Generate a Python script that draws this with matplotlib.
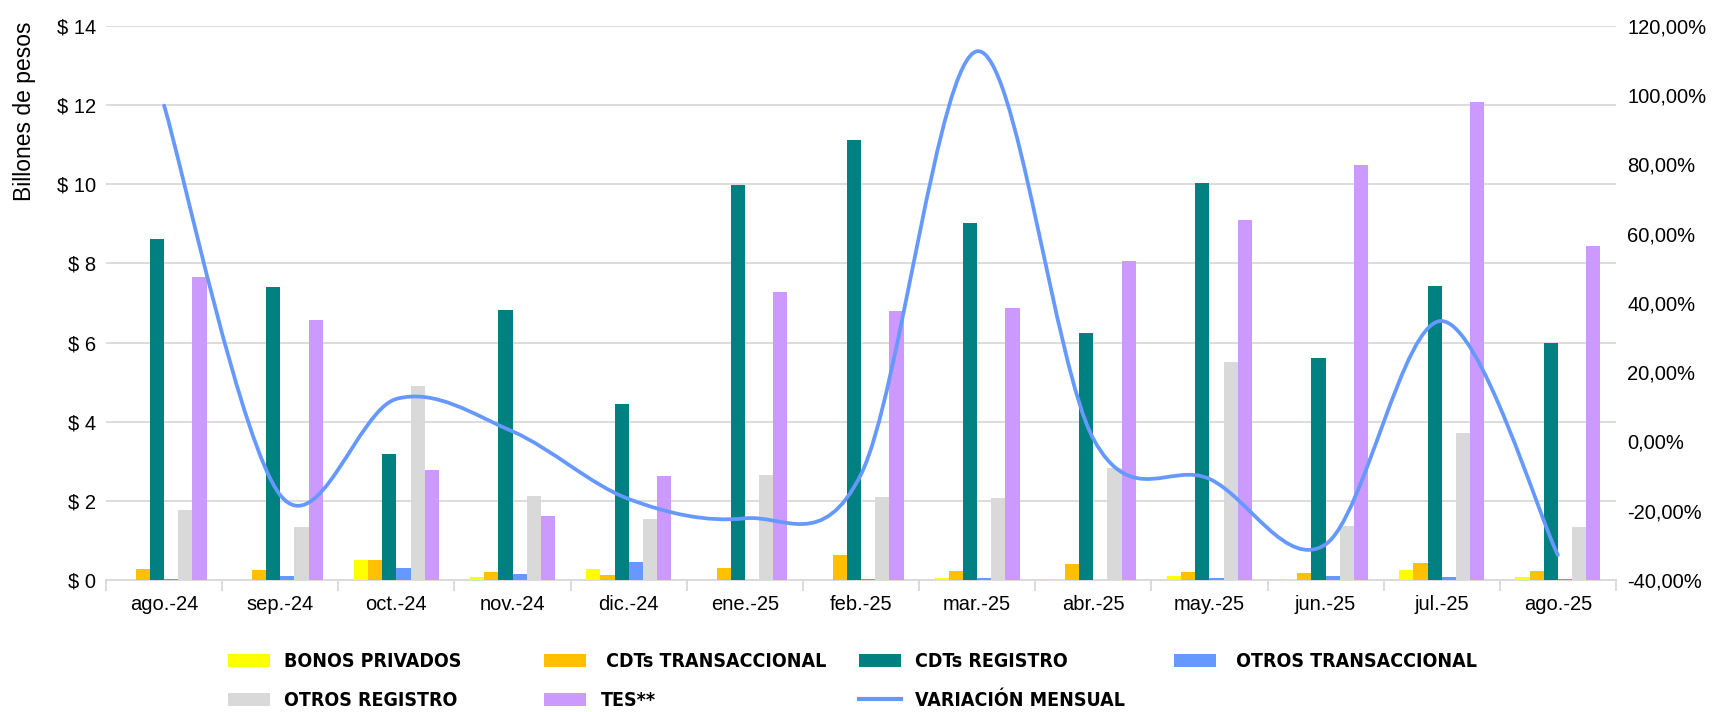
import matplotlib
matplotlib.use("Agg")
import matplotlib.pyplot as plt
from matplotlib import font_manager
from matplotlib.path import Path
from matplotlib.patches import PathPatch, Patch
from matplotlib.lines import Line2D
from matplotlib.ticker import FuncFormatter, FixedLocator
import numpy as np

months = ["ago.-24", "sep.-24", "oct.-24", "nov.-24", "dic.-24", "ene.-25", "feb.-25",
          "mar.-25", "abr.-25", "may.-25", "jun.-25", "jul.-25", "ago.-25"]

# billones de pesos
bonos_privados = [0.0, 0.0, 0.51, 0.08, 0.28, 0.0, 0.0, 0.06, 0.02, 0.09, 0.03, 0.26, 0.08]
cdts_transaccional = [0.28, 0.25, 0.51, 0.20, 0.13, 0.31, 0.64, 0.23, 0.40, 0.20, 0.17, 0.44, 0.23]
cdts_registro = [8.62, 7.40, 3.19, 6.82, 4.46, 9.99, 11.11, 9.03, 6.25, 10.03, 5.60, 7.44, 6.00]
otros_transaccional = [0.03, 0.10, 0.31, 0.15, 0.46, 0.0, 0.02, 0.04, 0.0, 0.04, 0.11, 0.07, 0.03]
otros_registro = [1.78, 1.34, 4.89, 2.11, 1.55, 2.66, 2.10, 2.08, 2.84, 5.50, 1.37, 3.72, 1.35]
tes = [7.65, 6.57, 2.78, 1.61, 2.62, 7.29, 6.80, 6.88, 8.07, 9.10, 10.48, 12.08, 8.45]

# variación mensual (%)
variacion = [97.0, -15.5, 12.3, 2.9, -16.6, -22.2, -9.5, 112.7, 0.8, -10.8, -29.7, 34.8, -32.8]

series = [
    ("BONOS PRIVADOS", bonos_privados, "#FFFF00"),
    (" CDTs TRANSACCIONAL", cdts_transaccional, "#FFC000"),
    ("CDTs REGISTRO", cdts_registro, "#008080"),
    (" OTROS TRANSACCIONAL", otros_transaccional, "#6699FF"),
    ("OTROS REGISTRO", otros_registro, "#D9D9D9"),
    ("TES**", tes, "#CC99FF"),
]
line_color = "#6699FF"
grid_color = "#D9D9D9"

names = {f.name for f in font_manager.fontManager.ttflist}
base_font = "Liberation Sans" if "Liberation Sans" in names else "DejaVu Sans"
narrow_font = "Liberation Sans Narrow" if "Liberation Sans Narrow" in names else "DejaVu Sans"
plt.rcParams["font.family"] = [base_font, "DejaVu Sans"]


def smooth_path(xs, ys):
    # Excel-like smoothed line: Catmull-Rom segments as cubic Beziers
    pts = np.column_stack([xs, ys]).astype(float)
    verts = [pts[0]]
    codes = [Path.MOVETO]
    n = len(pts)
    for i in range(n - 1):
        p0 = pts[i - 1] if i > 0 else pts[i]
        p1 = pts[i]
        p2 = pts[i + 1]
        p3 = pts[i + 2] if i + 2 < n else pts[i + 1]
        c1 = p1 + (p2 - p0) / 6.0
        c2 = p2 - (p3 - p1) / 6.0
        verts += [c1, c2, p2]
        codes += [Path.CURVE4] * 3
    return Path(verts, codes)


fig = plt.figure(figsize=(17.16, 7.12), dpi=100)
ax = fig.add_axes([0.0618, 0.1854, 0.8799, 0.7781])
ax2 = ax.twinx()

x = np.arange(len(months))
width = 0.122
for i, (label, vals, color) in enumerate(series):
    ax.bar(x + (i - 2.5) * width, vals, width=width, color=color, label=label, zorder=3)

ax.set_xlim(-0.5, len(months) - 0.5)
ax.set_ylim(0, 14)
ax.set_yticks(np.arange(0, 15, 2))
ax.yaxis.set_major_formatter(FuncFormatter(lambda v, p: f"$ {v:.0f}"))
ax.grid(axis="y", color=grid_color, linewidth=1.3, zorder=0)
ax.set_axisbelow(True)

ax.set_xticks(x)
ax.set_xticklabels(months)
ax.xaxis.set_minor_locator(FixedLocator(np.arange(-0.5, len(months), 1.0)))
ax.tick_params(axis="x", which="major", length=0, pad=11, labelsize=14.5)
ax.tick_params(axis="x", which="minor", length=8, width=1.3, color=grid_color)
ax.tick_params(axis="y", length=0, pad=7, labelsize=14.5)

for side in ["top", "left", "right"]:
    ax.spines[side].set_visible(False)
    ax2.spines[side].set_visible(False)
ax.spines["bottom"].set_color(grid_color)
ax.spines["bottom"].set_linewidth(1.3)
ax2.spines["bottom"].set_visible(False)

ax2.set_ylim(-40, 120)
ax2.set_yticks(np.arange(-40, 121, 20))
ax2.yaxis.set_major_formatter(FuncFormatter(lambda v, p: f"{v:.2f}%".replace(".", ",")))
ax2.tick_params(axis="y", length=0, pad=8, labelsize=14.5)

line_patch = PathPatch(smooth_path(x, variacion), facecolor="none", edgecolor=line_color,
                       linewidth=2.7, capstyle="round", zorder=4)
ax2.add_patch(line_patch)

fig.text(0.0145, 0.970, "Billones de pesos", rotation=90, va="top", ha="center", fontsize=16.5)

# legend: four columns at fixed positions like the original
handles = [Patch(facecolor=c, edgecolor="none", label=l) for l, _, c in series]
handles.append(Line2D([], [], color=line_color, linewidth=3, label="VARIACIÓN MENSUAL"))
columns = [[handles[0], handles[4]], [handles[1], handles[5]], [handles[2], handles[6]], [handles[3]]]
col_x = [228, 544, 859, 1174]
legend_font = {"family": narrow_font, "weight": "bold", "size": 14,
               "stretch": "condensed"}
for cx, hs in zip(col_x, columns):
    leg = fig.legend(handles=hs, loc="upper left", bbox_to_anchor=(cx / 1716, 1 - 652 / 712),
                     frameon=False, borderpad=0, borderaxespad=0, handlelength=2.15,
                     handleheight=0.65, handletextpad=0.75, labelspacing=1.03, prop=legend_font)

fig.savefig("out.png", dpi=100)
